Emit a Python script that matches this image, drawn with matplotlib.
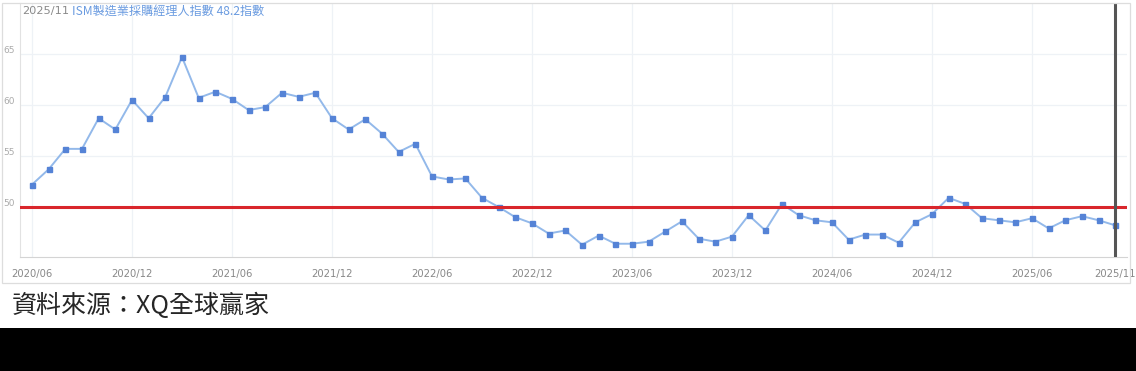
import matplotlib.pyplot as plt
import numpy as np
import pandas as pd
from matplotlib.patches import Rectangle
from matplotlib.transforms import ScaledTranslation

plt.rcParams['font.family'] = ['Noto Sans CJK TC', 'DejaVu Sans']

# monthly ISM manufacturing PMI, 2020/06 .. 2025/11
months = pd.date_range('2020-06-01', '2025-11-01', freq='MS').strftime('%Y/%m').tolist()
pmi = [52.2, 53.7, 55.7, 55.7, 58.7, 57.6, 60.5, 58.7, 60.8, 64.7,
       60.7, 61.3, 60.6, 59.5, 59.8, 61.2, 60.8, 61.2, 58.7, 57.6,
       58.6, 57.2, 55.4, 56.2, 53.0, 52.7, 52.8, 50.9, 50.0, 49.0,
       48.4, 47.4, 47.7, 46.3, 47.2, 46.4, 46.4, 46.6, 47.6, 48.6,
       46.9, 46.6, 47.1, 49.2, 47.7, 50.3, 49.2, 48.7, 48.5, 46.8,
       47.3, 47.3, 46.5, 48.5, 49.3, 50.9, 50.3, 48.9, 48.7, 48.5,
       48.9, 47.9, 48.7, 49.1, 48.7, 48.2]
tick_labels = ['2020/06', '2020/12', '2021/06', '2021/12', '2022/06', '2022/12',
               '2023/06', '2023/12', '2024/06', '2024/12', '2025/06', '2025/11']
y_ticks = [50, 55, 60, 65]
threshold = 50
latest_month = '2025/11'
latest_value = 48.2

x = np.arange(len(months))
tick_pos = [months.index(t) for t in tick_labels]

fig = plt.figure(figsize=(11.36, 3.71), dpi=100)
ax = fig.add_axes([20 / 1136, 1 - 257 / 371, 1107 / 1136, 254 / 371])

ax.plot(x, pmi, color='#93b9ea', lw=1.4, marker='s', markersize=3.6,
        markerfacecolor='#5583d6', markeredgecolor='#5583d6', zorder=3)
ax.axhline(threshold, color='#d9262c', lw=2.2, zorder=4)
ax.axvline(months.index(latest_month), color='#555555', lw=2.2, zorder=5)

ax.set_xlim(-0.72, 65.7)
ax.set_ylim(45.1, 70.0)
ax.set_xticks(tick_pos)
ax.set_xticklabels(tick_labels, color='#888888', fontsize=7.2, family='DejaVu Sans')
ax.set_yticks(y_ticks)
ax.set_yticklabels([str(v) for v in y_ticks], color='#aaaaaa', fontsize=6.5,
                   family='DejaVu Sans')
ax.tick_params(axis='both', length=0)
ax.tick_params(axis='x', pad=9)
ax.tick_params(axis='y', pad=4)
for lbl in ax.get_yticklabels():
    lbl.set_transform(lbl.get_transform() + ScaledTranslation(0, 3 / 72, fig.dpi_scale_trans))

ax.grid(color='#eef2f6', linewidth=0.9)
ax.set_axisbelow(True)
for side in ['top', 'right']:
    ax.spines[side].set_visible(False)
ax.spines['left'].set_color('#e2e2e2')
ax.spines['bottom'].set_color('#d4d4d4')

# title line
fig.text(22 / 1136, 1 - 11 / 371, latest_month, color='#8a8a8a', fontsize=8.2,
         va='center', family='DejaVu Sans')
fig.text(72 / 1136, 1 - 11 / 371, 'ISM製造業採購經理人指數 %.1f指數' % latest_value,
         color='#6a9be0', fontsize=8.7, va='center')

# outer frame
fig.patches.append(Rectangle((2 / 1136, 1 - 283 / 371), 1128 / 1136, 280 / 371,
                             transform=fig.transFigure, fill=False,
                             edgecolor='#dddddd', lw=0.9))

fig.text(12 / 1136, 1 - 306 / 371, '資料來源：XQ全球贏家', fontsize=18,
         fontweight='medium', color='#262626', va='center')

# black strip at the bottom
fig.patches.append(Rectangle((0, 0), 1, 43 / 371, transform=fig.transFigure,
                             facecolor='black', edgecolor='none'))

fig.savefig('out.png', dpi=100)
